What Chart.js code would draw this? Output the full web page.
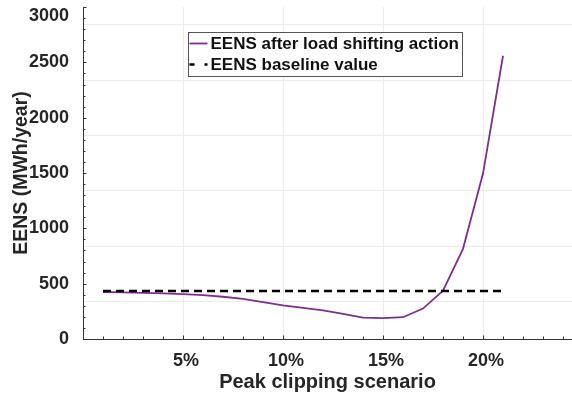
<!DOCTYPE html>
<html>
<head>
<meta charset="utf-8">
<title>EENS vs peak clipping</title>
<script src="https://cdn.jsdelivr.net/npm/chart.js"></script>
<style>
  html, body { margin: 0; padding: 0; background: #ffffff; }
  canvas { display: block; }
</style>
</head>
<body>
<canvas id="chart" width="572" height="397"></canvas>
<script>
  // data (peak clipping %, EENS in MWh/year)
  const scenarios = [1, 2, 3, 4, 5, 6, 7, 8, 9, 10, 11, 12, 13, 14, 15, 16, 17, 18, 19, 20, 21];
  const eensAfter = [425, 421, 417, 412, 406, 396, 382, 362, 334, 303, 282, 259, 227, 193, 189, 197, 275, 436, 815, 1495, 2560];
  const eensBaseline = 433;

  const xLabelTicks = [5, 10, 15, 20];
  const yLabelTicks = [0, 500, 1000, 1500, 2000, 2500, 3000];
  const yGridLines = [340, 840, 1340, 1840, 2340, 2840];

  const FONT = '"Liberation Sans", Arial, sans-serif';
  const TEXT = '#262626';
  const AXIS = '#333333';

  // small inward tick marks on both axes
  const minorTicks = {
    id: 'minorTicks',
    afterDatasetsDraw(chart) {
      const { ctx, chartArea } = chart;
      const xs = chart.scales.x, ys = chart.scales.y;
      ctx.save();
      ctx.strokeStyle = AXIS;
      ctx.lineWidth = 1;
      ctx.beginPath();
      for (let v = 1; v <= xs.max; v++) {
        const px = Math.round(xs.getPixelForValue(v)) + 0.5;
        const len = v % 5 === 0 ? 3.5 : 2.5;
        ctx.moveTo(px, chartArea.bottom);
        ctx.lineTo(px, chartArea.bottom - len);
      }
      for (let v = 100; v <= ys.max; v += 100) {
        const py = Math.round(ys.getPixelForValue(v)) + 0.5;
        const len = v % 500 === 0 ? 3.5 : 2.5;
        ctx.moveTo(chartArea.left, py);
        ctx.lineTo(chartArea.left + len, py);
      }
      ctx.stroke();
      ctx.restore();
    }
  };

  // top y label sits a bit lower in the original so it isn't cut off
  const nudgeTopLabel = {
    id: 'nudgeTopLabel',
    beforeDraw(chart) {
      const items = chart.scales.y.getLabelItems();
      const top = items[items.length - 1];
      if (top && !top._nudged) {
        top.options.translation[1] += 9;
        top._nudged = true;
      }
    }
  };

  // boxed legend inside the plot, like the original
  const legendBox = {
    id: 'legendBox',
    afterDatasetsDraw(chart) {
      const { ctx, chartArea } = chart;
      const x0 = Math.round(chartArea.left + 105) + 0.5;
      const y0 = 32.5;
      const w = 274, h = 44;
      ctx.save();
      ctx.fillStyle = '#ffffff';
      ctx.fillRect(x0, y0, w, h);
      ctx.strokeStyle = '#555555';
      ctx.lineWidth = 1;
      ctx.strokeRect(x0, y0, w, h);

      const ds = chart.data.datasets;
      const rows = [y0 + 12, y0 + 33];
      // purple sample
      ctx.strokeStyle = ds[0].borderColor;
      ctx.lineWidth = ds[0].borderWidth;
      ctx.beginPath();
      ctx.moveTo(x0 + 1, rows[0] - 1);
      ctx.lineTo(x0 + 19, rows[0] - 1);
      ctx.stroke();
      // dashed sample
      ctx.strokeStyle = ds[1].borderColor;
      ctx.lineWidth = ds[1].borderWidth;
      ctx.setLineDash([5, 10]);
      ctx.beginPath();
      ctx.moveTo(x0 + 1, rows[1] - 1);
      ctx.lineTo(x0 + 19, rows[1] - 1);
      ctx.stroke();
      ctx.setLineDash([]);

      ctx.fillStyle = '#111111';
      ctx.font = 'bold 17px ' + FONT;
      ctx.textBaseline = 'middle';
      ctx.textAlign = 'left';
      ctx.fillText(ds[0].label, x0 + 22, rows[0]);
      ctx.fillText(ds[1].label, x0 + 22, rows[1]);
      ctx.restore();
    }
  };

  const ctx = document.getElementById('chart').getContext('2d');
  const chart = new Chart(ctx, {
    type: 'line',
    data: {
      datasets: [
        {
          label: 'EENS after load shifting action',
          data: scenarios.map((s, i) => ({ x: s, y: eensAfter[i] })),
          borderColor: '#7E2F8E',
          borderWidth: 1.8,
          pointRadius: 0,
          tension: 0,
          order: 1
        },
        {
          label: 'EENS baseline value',
          data: [
            { x: scenarios[0], y: eensBaseline },
            { x: scenarios[scenarios.length - 1], y: eensBaseline }
          ],
          borderColor: '#000000',
          borderWidth: 2.5,
          borderDash: [8, 5],
          pointRadius: 0,
          order: 0
        }
      ]
    },
    options: {
      responsive: false,
      animation: false,
      devicePixelRatio: 1,
      layout: { padding: 0 },
      plugins: {
        legend: { display: false },
        tooltip: { enabled: false }
      },
      scales: {
        x: {
          type: 'linear',
          min: 0,
          max: 24.45,
          afterBuildTicks: s => { s.ticks = xLabelTicks.map(v => ({ value: v })); },
          afterFit: s => { s.height = 58; },
          ticks: {
            callback: v => v + '%',
            color: TEXT,
            font: { family: FONT, size: 18, weight: 'bold' },
            padding: 11,
            labelOffset: 3,
            maxRotation: 0,
            autoSkip: false
          },
          grid: { color: '#ebebeb', drawTicks: false },
          border: { display: true, color: AXIS, width: 1 },
          title: {
            display: true,
            text: 'Peak clipping scenario',
            color: TEXT,
            font: { family: FONT, size: 20, weight: 'bold' },
            padding: { top: 0, bottom: 3 }
          }
        },
        y: {
          min: 0,
          max: 3000,
          afterBuildTicks: s => { s.ticks = yLabelTicks.map(v => ({ value: v })); },
          afterFit: s => { s.width = 83; },
          ticks: {
            callback: v => String(v),
            color: TEXT,
            font: { family: FONT, size: 18, weight: 'bold', lineHeight: 0.12 },
            padding: 6,
            autoSkip: false
          },
          grid: { display: false },
          border: { display: true, color: AXIS, width: 1 },
          title: {
            display: true,
            text: 'EENS (MWh/year)',
            color: TEXT,
            font: { family: FONT, size: 19.5, weight: 'bold' },
            padding: { top: 10, bottom: 0 }
          }
        },
        yg: {
          position: 'right',
          min: 0,
          max: 3000,
          afterBuildTicks: s => { s.ticks = yGridLines.map(v => ({ value: v })); },
          afterFit: s => { s.width = 0; },
          ticks: { display: false },
          grid: { color: '#ebebeb', drawTicks: false },
          border: { display: false }
        }
      }
    },
    plugins: [nudgeTopLabel, minorTicks, legendBox]
  });
</script>
</body>
</html>
